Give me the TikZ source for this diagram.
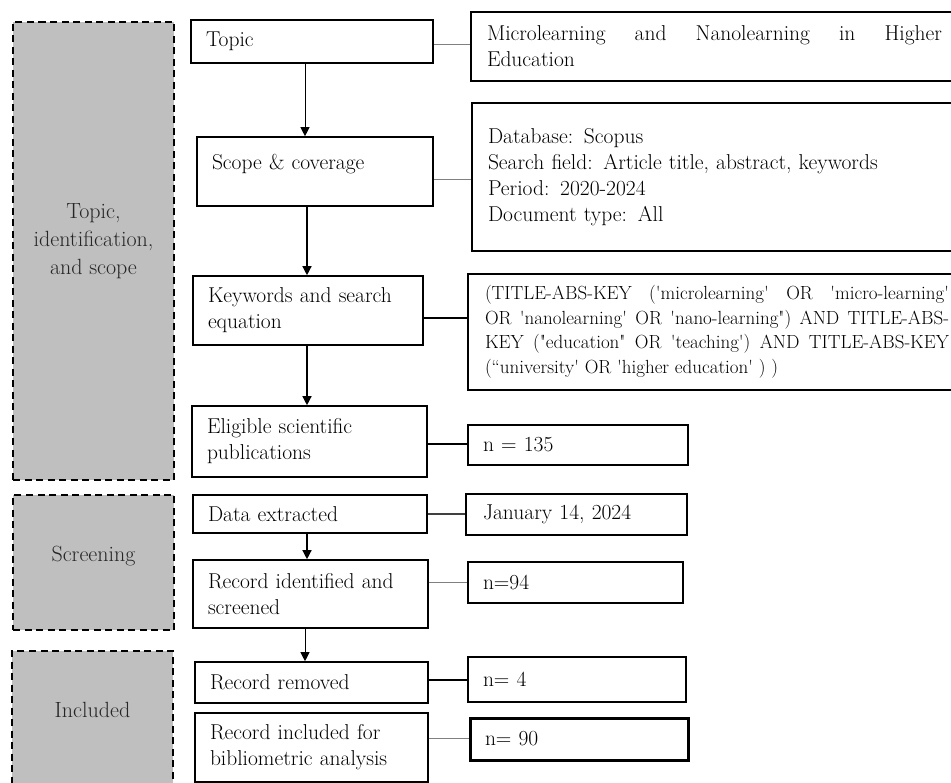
\documentclass[tikz,border=0pt]{standalone}
\usepackage{fontspec}
\usetikzlibrary{arrows.meta}
\newcommand\sq{\textquotesingle}
\newcommand\dq{\textquotedbl}
\begin{document}
\begin{tikzpicture}[x=1pt,y=-1pt,
  every node/.style={font=\fontsize{21.5}{26}\selectfont},
  lbox/.style={draw, line width=1.6pt, fill=white, inner xsep=15pt, inner ysep=2pt, align=left},
  rbox/.style={draw, line width=1.6pt, fill=white, inner xsep=16pt, inner ysep=2pt, align=left},
  gbox/.style={draw, line width=1.6pt, dash pattern=on 7pt off 4.5pt, fill=gray!50, inner sep=0pt},
  glabel/.style={align=center, text=black!85, font=\fontsize{22}{28}\selectfont},
  arr/.style={-{Triangle[width=9pt,length=9pt]}, line width=1.3pt},
  arrthin/.style={-{Triangle[width=9pt,length=9pt]}, line width=0.9pt},
  thinc/.style={draw=black!50, line width=0.9pt},
  thickc/.style={draw=black, line width=1.3pt}]
\useasboundingbox (0,0) rectangle (951,783);
\clip (0,0) rectangle (951,783);

% gray phase boxes
\node[gbox, minimum width=161pt, minimum height=458pt,
  label={[glabel, yshift=10pt]center:{Topic,\\identification,\\and scope}}] (g1) at (93.5,251) {};
\node[gbox, minimum width=161pt, minimum height=135pt,
  label={[glabel, yshift=6pt]center:Screening}] (g2) at (93.5,562.5) {};
\node[gbox, minimum width=161pt, minimum height=139pt,
  label={[glabel, yshift=11pt]center:Included}] (g3) at (92.5,720.5) {};

% left column
\node[lbox, text width=212pt, minimum height=43pt] (topic) at (312,41.5) {Topic};
\node[lbox, text width=206pt, minimum height=69pt, text depth=20pt] (scope) at (315,171.5) {Scope \& coverage};
\node[lbox, text width=200pt, minimum height=69pt] (kw) at (308,310.5) {Keywords and search\\equation};
\node[lbox, text width=205pt, minimum height=71pt] (elig) at (309.5,441.5) {Eligible scientific\\publications};
\node[lbox, text width=204pt, minimum height=38pt] (data) at (310,514) {Data extracted};
\node[lbox, text width=205pt, minimum height=68pt] (recid) at (310.5,594) {Record identified and\\screened};
\node[lbox, text width=203pt, minimum height=41pt] (rem) at (311.5,682.5) {Record removed};
\node[lbox, text width=203pt, minimum height=69pt] (inc) at (311.5,747.5) {Record included for\\bibliometric analysis};

% right column
\node[rbox, text width=455pt, minimum height=69pt, align=justify] (micro) at (714.5,46.5)
  {Microlearning and Nanolearning in Higher\linebreak Education};
\node[rbox, text width=455pt, minimum height=148pt] (db) at (715.5,177)
  {Database: Scopus\\Search field: Article title, abstract, keywords\\Period: 2020-2024\\Document type: All};
\node[rbox, inner xsep=17pt, text width=464pt, minimum height=116pt, align=justify,
  font=\fontsize{19}{24.5}\selectfont] (query) at (717,332)
  {(TITLE-ABS-KEY (\sq microlearning\sq{} OR \sq micro-learning\sq\linebreak
   OR \sq nanolearning\sq{} OR \sq nano-learning\dq) AND TITLE-ABS-\linebreak
   KEY (\dq education\dq{} OR \sq teaching\sq) AND TITLE-ABS-KEY\linebreak
   (``university\sq{} OR \sq higher education\sq{} ) )};
\node[rbox, inner xsep=15pt, text width=190pt, minimum height=40pt] (n135) at (578,445) {n = 135};
\node[rbox, inner xsep=17pt, text width=187pt, minimum height=41pt] (jan) at (576.5,514.5) {January 14, 2024};
\node[rbox, inner xsep=15pt, text width=185pt, minimum height=41pt] (n94) at (575.5,582.5) {n=94};
\node[rbox, inner xsep=15pt, text width=188pt, minimum height=45pt] (n4) at (577,679.5) {n= 4};
\node[rbox, line width=3pt, inner xsep=15pt, text width=188pt, minimum height=42pt] (n90) at (579,739) {n= 90};

% vertical arrows
\coordinate (xa) at (305,0);
\coordinate (xb) at (307,0);
\draw[arrthin] (topic.south -| xa) -- (scope.north -| xa);
\draw[arr] (scope.south -| xb) -- (kw.north -| xb);
\draw[arr] (kw.south -| xb) -- (elig.north -| xb);
\draw[arr] (data.south -| xb) -- (recid.north -| xb);
\draw[arrthin] (recid.south -| xa) -- (rem.north -| xa);

% horizontal connectors
\coordinate (h1) at ([yshift=-2.5pt]topic.east);
\coordinate (h2) at ([yshift=-7.5pt]scope.east);
\coordinate (h3) at ([yshift=-7.5pt]kw.east);
\coordinate (h4) at ([yshift=-2.5pt]elig.east);
\coordinate (h5) at (data.east);
\coordinate (h6) at ([yshift=12pt]recid.east);
\coordinate (h7) at ([yshift=2.5pt]rem.east);
\coordinate (h8) at ([yshift=9.5pt]inc.east);
\draw[thinc] (h1) -- (h1 -| micro.west);
\draw[thinc] (h2) -- (h2 -| db.west);
\draw[thickc] (h3) -- (h3 -| query.west);
\draw[thickc] (h4) -- (h4 -| n135.west);
\draw[thickc, draw=black!75] (h5) -- (h5 -| jan.west);
\draw[thinc] (h6) -- (h6 -| n94.west);
\draw[thickc] (h7) -- (h7 -| n4.west);
\draw[thinc] (h8) -- (h8 -| n90.west);
\end{tikzpicture}
\end{document}
